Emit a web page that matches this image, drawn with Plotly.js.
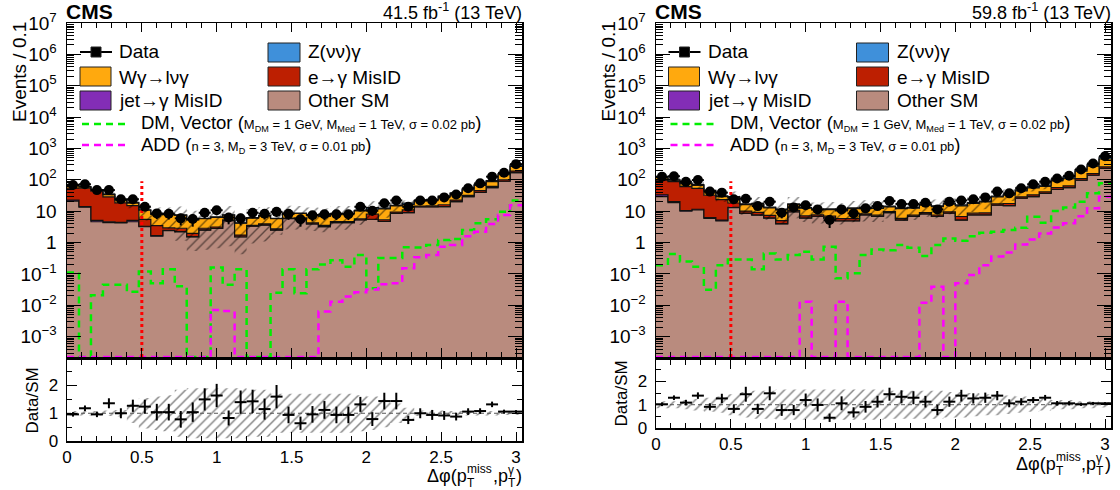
<!DOCTYPE html>
<html>
<head>
<meta charset="utf-8">
<script src="https://cdn.plot.ly/plotly-3.0.1.min.js"></script>
<style>html,body{margin:0;padding:0;background:#fff}#chart{width:1120px;height:490px}</style>
</head>
<body>
<div id="chart"></div>
<script>
// ---------------- binning ----------------
const binWidth = 0.08;
const nBins = 38;
const xMax = 3.04;
const cutX = 0.5;
const cutTop = 90;

// ---------------- left panel: 41.5 fb-1 ----------------
const dataL    = [68,72,47,47,24,24, 13.8,8.5,8.3,5.9,5.6,8.9, 10.7,6.3,5.9,8.9,8.3,9.5, 8.2,5.5,7.4,8.0,8.0,8.0, 13.8,10.3,17.8,22,13.8,22, 22,27.5,34,54,77,126, 167,316];
const dataErrL = [8,8.5,7,7,5,5, 3.7,2.9,2.9,2.4,2.4,3, 3.3,2.5,2.4,3,2.9,3.1, 2.9,2.3,2.7,2.8,2.8,2.8, 3.7,3.2,4.2,4.7,3.7,4.7, 4.7,5.2,5.8,7.3,8.8,11, 13,18];
const otherL   = [21,13.5,4.6,4.3,4.2,4.6, 3.2,1.6,2.4,2.2,1.5,2.5, 2.8,5.0,1.5,3.3,3.6,2.5, 5.8,5.8,3.9,3.2,4.3,4.3, 5.3,5.5,4.7,8.5,9,13.8, 13.8,14,20,29,40,56, 90,170];
const jetL     = [1.5,0.5,0.5,0.3,0.2,0.5, 0.1,0.05,0.05,0.05,0.05,0.05, 0.03,0.03,0.03,0.03,0.03,0.03, 0.03,0.03,0.03,0.03,0.03,0.03, 0.03,0.03,0.03,0.03,0.03,0.03, 0.03,0.03,0.03,0.03,0.03,0.03, 0.03,0.03];
const eleL     = [32,40,38,24,14,10, 2.2,1.8,0.5,0.6,0.4,0.3, 0.3,0.3,0.2,0.2,0.3,0.2, 0.2,0.3,0.3,0.3,0.3,0.3, 0.4,2.5,0.6,0.8,2,0.8, 1,2,2.6,3,5,6, 10,20];
const wgL      = [12,5,4,5,4,3, 5.2,4.5,4.8,4.5,3.3,2.9, 3.2,2.1,2.4,2.5,3.1,3.0, 2.5,2.3,3.3,3.4,3.7,3.7, 4.5,3.5,6.5,5.5,5.5,6.7, 7.8,12.5,14,16,21,26, 45,78];
const zvvL     = [4.5,2,2,1.4,1.6,0.9, 0.4,0.25,0.25,0.25,0.15,0.15, 0.2,0.2,0.1,0.2,0.2,0.2, 0.2,0.2,0.2,0.2,0.2,0.2, 0.3,1.5,0.6,0.5,1.7,0.7, 0.8,1.5,2,3,5,7, 13,30];
const systL    = [0.08,0.08,0.08,0.1,0.12,0.35, 0.55,0.6,0.65,0.85,0.9,0.9, 0.9,0.9,0.9,0.85,0.85,0.7, 0.7,0.7,0.7,0.7,0.7,0.7, 0.65,0.6,0.5,0.35,0.2,0.1, 0.1,0.1,0.08,0.08,0.08,0.08, 0.06,0.06];
const ratioL   = [0.96,1.18,0.96,1.36,1.0,1.27, 1.24,1.04,1.04,0.78,1.04,1.5, 1.64,0.83,1.4,1.43,1.15,1.6, 0.94,0.64,0.96,1.12,0.94,0.94, 1.32,0.79,1.44,1.44,0.76,1.0, 0.94,0.92,0.88,1.06,1.08,1.32, 1.06,1.06];
const ratioErrL= [0.08,0.1,0.1,0.18,0.18,0.22, 0.25,0.3,0.3,0.3,0.35,0.4, 0.42,0.27,0.42,0.42,0.38,0.42, 0.3,0.24,0.3,0.32,0.3,0.3, 0.27,0.25,0.3,0.3,0.15,0.18, 0.18,0.16,0.14,0.12,0.1,0.1, 0.07,0.05];
const dmL      = [0.11,0,0.021,0.045,0.045,0.027, 0.12,0.05,0.14,0.04,0,0, 0.16,0.045,0.14,0,0,0.025, 0.14,0.024,0.14,0.2,0.27,0.17, 0.4,0.035,0.32,0.32,0.71,0.7, 0.83,1.2,1.3,2.5,4.1,5.5, 9.5,22];
const addL     = [0,0,0,0,0,0, 0,0,0,0,0,0, 0.007,0.0065,0,0,0,0, 0,0,0,0.0063,0.013,0.019, 0.026,0.032,0.047,0.05,0.15,0.34, 0.4,0.74,0.83,1.6,2.2,3.9, 7.6,15.5];

// ---------------- right panel: 59.8 fb-1 ----------------
const dataR    = [126,130,87,98,42,39, 24,25,14.5,20,8.9,13.2, 15.5,11.4,5.2,11.4,8.5,12.3, 14.5,21,17,17,18.6,11.4, 20,22,24,27.5,42,37, 54,72,87,110,134,214, 331,566];
const dataErrR = [11,11.4,9.3,9.9,6.5,6.2, 4.9,5,3.8,4.5,3,3.6, 3.9,3.4,2.3,3.4,2.9,3.5, 3.8,4.6,4.1,4.1,4.3,3.4, 4.5,4.7,4.9,5.2,6.5,6.1, 7.3,8.5,9.3,10.5,11.6,14.6, 18.2,23.8];
const otherR   = [29,18.6,10,11,5.9,4.9, 13,8.5,7.5,6,3.9,9.5, 6,6.8,6,4.9,4.9,7.6, 6.8,9,5.2,6.8,8.2,6.8, 8.6,5.2,7.6,7.6,15.5,15, 26,29,37,49,56,98, 141,230];
const jetR     = [4,1.5,0.5,0.5,0.3,0.3, 0.2,0.1,0.1,0.1,0.1,0.1, 0.1,0.1,0.1,0.05,0.05,0.05, 0.05,0.05,0.05,0.05,0.05,0.05, 0.05,0.05,0.05,0.05,0.05,0.05, 0.05,0.05,0.05,0.05,0.05,0.05, 0.05,0.05];
const eleR     = [65,67,50,42,26,18, 5,1.5,1.5,1.2,1.0,1.0, 1.0,0.8,0.8,0.8,0.8,0.6, 0.6,0.6,0.6,0.6,0.7,0.7, 0.8,1.5,1.0,1.2,1.5,2.5, 2.5,4,4,7,8,12, 18,30];
const wgR      = [20,10,15,13,11,6, 9,6,7.5,5.5,6,5.6, 5.3,3.3,4.3,4.5,6.3,4.6, 4.7,4.1,6.2,5,6.7,6.5, 7.3,8.0,9.2,11,11.5,15, 16,22,21,38,48,78, 115,200];
const zvvR     = [6,3,4.5,3.5,2.8,1.8, 1.8,0.9,1.1,0.6,0.6,0.8, 0.6,0.5,0.6,0.55,0.65,0.65, 0.65,0.75,0.65,0.65,0.85,0.75, 0.95,1.05,1.05,1.15,1.45,2.45, 3.45,5,5,10,14,22, 38,74];
const systR    = [0.15,0.15,0.2,0.25,0.3,0.35, 0.45,0.55,0.6,0.6,0.65,0.65, 0.65,0.65,0.65,0.65,0.65,0.65, 0.65,0.6,0.6,0.6,0.6,0.6, 0.55,0.55,0.5,0.45,0.45,0.4, 0.35,0.3,0.25,0.2,0.2,0.15, 0.15,0.12];
const ratioR   = [1.02,1.30,1.09,1.39,0.91,1.27, 0.82,1.45,0.82,1.49,0.77,0.77, 1.2,0.99,0.44,1.06,0.67,0.91, 1.13,1.45,1.34,1.3,1.13,0.77, 1.13,1.39,1.27,1.3,1.39,1.06, 1.13,1.2,1.3,1.06,1.06,1.02, 1.06,1.06];
const ratioErrR= [0.08,0.1,0.12,0.14,0.15,0.2, 0.18,0.32,0.22,0.3,0.25,0.22, 0.28,0.28,0.18,0.3,0.22,0.25, 0.25,0.28,0.28,0.28,0.25,0.22, 0.22,0.25,0.22,0.22,0.2,0.17, 0.15,0.13,0.12,0.1,0.09,0.07, 0.06,0.04];
const dmR      = [0.19,0.43,0.25,0.17,0.031,0.19, 0.29,0.29,0.14,0.45,0.29,0.4, 0.51,0.29,0.74,0.072,0.105,0.40, 0.60,0.57,0.83,0.68,0.37,0.83, 1.35,1.14,1.6,2.05,2.2,2.5, 2.96,6.6,4.3,10.2,13,20, 37,78];
const addR     = [0,0,0,0,0,0, 0,0,0,0,0,0, 0.013,0,0,0.013,0,0, 0,0,0,0,0.012,0.039, 0,0.05,0.093,0.19,0.36,0.48, 0.87,1.25,1.95,3.0,4.1,6.9, 12.3,29];

// ---------------- labels ----------------
const yTickVals = [1e-3,1e-2,1e-1,1,10,1e2,1e3,1e4,1e5,1e6,1e7];
const yTickText = ['10<sup>\u22123</sup>','10<sup>\u22122</sup>','10<sup>\u22121</sup>','1','10','10<sup>2</sup>','10<sup>3</sup>','10<sup>4</sup>','10<sup>5</sup>','10<sup>6</sup>','10<sup>7</sup>'];
const ratioTickVals = [0,1,2];
const ratioTickText = ['0','1','2'];
const lumiL = '41.5 fb<sup>-1</sup> (13 TeV)';
const lumiR = '59.8 fb<sup>-1</sup> (13 TeV)';
const legendNames = {
  data:'Data', zvv:'Z(\u03bd\u03bd)\u03b3', wg:'W\u03b3\u2192l\u03bd\u03b3', ele:'e\u2192\u03b3 MisID',
  jet:'jet\u2192\u03b3 MisID', other:'Other SM'
};

// ---------------- styles ----------------
const FONT = 'Liberation Sans, Arial, Helvetica, sans-serif';
const colOther = '#b98b7e', colJet = '#832db6', colEle = '#bd1f01', colWg = '#ffa90e', colZvv = '#3f90da';
const colDM = '#00ee00', colADD = '#ff00ff';
const yMinLog = -3.65;
const yFloor = Math.pow(10, yMinLog);

const W = 1120, H = 490, ML = 67, MR = 9, MT = 23, MB = 49;
const PW = W - ML - MR, PH = H - MT - MB;
const px = x => (x - ML) / PW;
const py = y => (MT + PH - y) / PH;

const edges = Array.from({length: nBins + 1}, (_, i) => +(i * binWidth).toFixed(4));
const centers = edges.slice(0, -1).map(e => +(e + binWidth / 2).toFixed(4));
const st = v => v.concat([v[v.length - 1]]);

function panelTraces(p, xa, ya, xr, yr) {
  const tr = [];
  const base = {mode: 'lines', hoverinfo: 'skip', showlegend: false};
  tr.push(Object.assign({}, base, {x: edges, y: st(Array(nBins).fill(1e-6)), line: {width: 0, shape: 'hv'}, xaxis: xa, yaxis: ya}));
  let cum = Array(nBins).fill(0);
  [[p.other, colOther], [p.jet, colJet], [p.ele, colEle], [p.wg, colWg], [p.zvv, colZvv]].forEach(([arr, col]) => {
    cum = cum.map((c, i) => c + arr[i]);
    tr.push(Object.assign({}, base, {x: edges, y: st(cum), line: {color: '#111', width: 1.2, shape: 'hv'},
      fill: 'tonexty', fillcolor: col, xaxis: xa, yaxis: ya}));
  });
  const total = cum;
  const pat = {shape: '/', fgcolor: '#000', bgcolor: 'rgba(0,0,0,0)', size: 7, solidity: 0.2, fillmode: 'overlay'};
  tr.push(Object.assign({}, base, {x: edges, y: st(total.map((t, i) => t * (1 - p.syst[i]))), line: {width: 0, shape: 'hv'}, xaxis: xa, yaxis: ya}));
  tr.push(Object.assign({}, base, {x: edges, y: st(total.map((t, i) => t * (1 + p.syst[i]))), line: {width: 0, shape: 'hv'},
    fill: 'tonexty', fillcolor: 'rgba(0,0,0,0)', fillpattern: pat, xaxis: xa, yaxis: ya}));
  // signals
  tr.push(Object.assign({}, base, {x: edges, y: st(p.dm.map(v => v > 0 ? v : yFloor)), line: {color: colDM, width: 2.5, dash: '7px,5px', shape: 'hv'}, xaxis: xa, yaxis: ya}));
  tr.push(Object.assign({}, base, {x: edges, y: st(p.add.map(v => v > 0 ? v : yFloor)), line: {color: colADD, width: 2.5, dash: '7px,5px', shape: 'hv'}, xaxis: xa, yaxis: ya}));
  // cut line
  tr.push(Object.assign({}, base, {x: [cutX, cutX], y: [yFloor, cutTop], line: {color: '#ff0000', width: 3, dash: '3px,3px'}, xaxis: xa, yaxis: ya}));
  // data
  tr.push({x: centers, y: p.data, mode: 'markers', type: 'scatter', name: 'Data', showlegend: false,
    marker: {symbol: 'circle', size: 10, color: 'black'},
    error_x: {type: 'constant', value: binWidth / 2, thickness: 2, width: 0, color: 'black'},
    error_y: {type: 'data', array: p.dataErr, thickness: 2, width: 0, color: 'black'},
    xaxis: xa, yaxis: ya});
  // ratio band
  tr.push(Object.assign({}, base, {x: edges, y: st(p.syst.map(u => 1 - u)), line: {width: 0, shape: 'hv'}, xaxis: xr, yaxis: yr}));
  tr.push(Object.assign({}, base, {x: edges, y: st(p.syst.map(u => 1 + u)), line: {width: 0, shape: 'hv'},
    fill: 'tonexty', fillcolor: 'rgba(0,0,0,0)', fillpattern: pat, xaxis: xr, yaxis: yr}));
  tr.push(Object.assign({}, base, {x: [0, xMax], y: [1, 1], line: {color: '#555', width: 1, dash: '4px,3px'}, xaxis: xr, yaxis: yr}));
  tr.push({x: centers, y: p.ratio, mode: 'markers', type: 'scatter', showlegend: false,
    marker: {size: 2, color: 'black'},
    error_x: {type: 'constant', value: binWidth / 2, thickness: 2, width: 0, color: 'black'},
    error_y: {type: 'data', array: p.ratioErr, thickness: 2, width: 0, color: 'black'},
    xaxis: xr, yaxis: yr});
  return tr;
}

const traces = [].concat(
  panelTraces({data: dataL, dataErr: dataErrL, other: otherL, jet: jetL, ele: eleL, wg: wgL, zvv: zvvL, syst: systL,
    ratio: ratioL, ratioErr: ratioErrL, dm: dmL, add: addL}, 'x', 'y', 'x3', 'y3'),
  panelTraces({data: dataR, dataErr: dataErrR, other: otherR, jet: jetR, ele: eleR, wg: wgR, zvv: zvvR, syst: systR,
    ratio: ratioR, ratioErr: ratioErrR, dm: dmR, add: addR}, 'x2', 'y2', 'x4', 'y4')
);

// ---------------- axes ----------------
const minorLog = [];
for (let k = -4; k <= 6; k++) for (let m = 2; m <= 9; m++) { const v = m * Math.pow(10, k); if (v >= yFloor && v <= 1e7) minorLog.push(v); }

const common = {showline: true, linecolor: 'black', linewidth: 1.5, mirror: 'allticks', ticks: 'inside', tickcolor: 'black',
  tickwidth: 1, showgrid: false, zeroline: false, fixedrange: true};
function xMain(dom, anchor) {
  return Object.assign({}, common, {domain: dom, anchor: anchor, range: [0, xMax], tickmode: 'linear', tick0: 0, dtick: 0.5,
    ticklen: 9, showticklabels: false, minor: {ticks: 'inside', tickmode: 'linear', tick0: 0, dtick: 0.1, ticklen: 5, tickcolor: 'black', showgrid: false}});
}
function xRatio(dom, anchor) {
  return Object.assign({}, common, {domain: dom, anchor: anchor, range: [0, xMax], tickmode: 'linear', tick0: 0, dtick: 0.5,
    ticklen: 9, showticklabels: true, tickfont: {size: 17, color: 'black', family: FONT}, ticklabelstandoff: 0,
    minor: {ticks: 'inside', tickmode: 'linear', tick0: 0, dtick: 0.1, ticklen: 5, tickcolor: 'black', showgrid: false}});
}
function yMain(dom, anchor) {
  return Object.assign({}, common, {domain: dom, anchor: anchor, type: 'log', range: [yMinLog, 7], tickmode: 'array',
    tickvals: yTickVals, ticktext: yTickText, ticklen: 14, tickfont: {size: 19, color: 'black', family: FONT}, ticklabelstandoff: 5,
    minor: {ticks: 'inside', tickmode: 'array', tickvals: minorLog, ticklen: 7, tickcolor: 'black', showgrid: false}});
}
function yRatio(dom, anchor) {
  return Object.assign({}, common, {domain: dom, anchor: anchor, range: [0, 2.92], tickmode: 'array', tickvals: ratioTickVals,
    ticktext: ratioTickText, ticklen: 10, tickfont: {size: 17, color: 'black', family: FONT}, ticklabelstandoff: 4,
    minor: {ticks: 'inside', tickmode: 'linear', tick0: 0, dtick: 0.5, ticklen: 5, tickcolor: 'black', showgrid: false}});
}

const xDomL = [0, px(522)], xDomR = [px(656), 1];
const yDomMain = [py(357), 1];
const yDomRatL = [0, py(360)], yDomRatR = [py(428), py(360)];

// ---------------- legend / text ----------------
const shapes = [], annotations = [];
const measureCtx = document.createElement('canvas').getContext('2d');
function tw(s, size) { measureCtx.font = size + 'px "Liberation Sans", Arial, sans-serif'; return measureCtx.measureText(s).width; }
function txt(x, y, text, size, opts) {
  annotations.push(Object.assign({x: px(x), y: py(y), xref: 'paper', yref: 'paper', text: text, showarrow: false,
    xanchor: 'left', yanchor: 'middle', borderpad: 0, font: {size: size, color: 'black', family: FONT}}, opts || {}));
}
function box(x0, y0, x1, y1, col) {
  shapes.push({type: 'rect', xref: 'paper', yref: 'paper', x0: px(x0), x1: px(x1), y0: py(y1), y1: py(y0),
    fillcolor: col, line: {color: '#222', width: 1}});
}
function hline(x0, x1, y, col, w, dash) {
  shapes.push({type: 'line', xref: 'paper', yref: 'paper', x0: px(x0), x1: px(x1), y0: py(y), y1: py(y), line: {color: col, width: w, dash: dash || 'solid'}});
}
function axisTitle(xRight, yc) {
  const big = 18, small = 12;
  const a = '\u0394\u03c6(p', b = ',p', c = ')';
  const wa = tw(a, big), wb = tw(b, big), wc = tw(c, big);
  const w1 = Math.max(tw('miss', small), tw('T', small)) + 1;
  const w2 = Math.max(tw('\u03b3', small), tw('T', small)) + 1;
  let x = xRight - (wa + w1 + wb + w2 + wc);
  txt(x, yc, a, big); x += wa;
  txt(x, yc - 7, 'miss', small); txt(x, yc + 7, 'T', small); x += w1;
  txt(x, yc, b, big); x += wb;
  txt(x, yc - 6, '\u03b3', small); txt(x, yc + 7, 'T', small); x += w2;
  txt(x, yc, c, big);
}
function panelText(dx, lumi, ratioBottom, titleY) {
  txt(65 + dx, 12, '<b>CMS</b>', 21);
  txt(523 + dx, 11.5, lumi, 18, {xanchor: 'right'});
  // legend column 1
  hline(80 + dx, 112 + dx, 52, 'black', 2);
  box(91 + dx, 47, 101 + dx, 57, 'black');
  txt(118 + dx, 52, legendNames.data, 19);
  box(80 + dx, 67, 111 + dx, 86, colWg);
  txt(118 + dx, 77, legendNames.wg, 19);
  box(80 + dx, 91, 111 + dx, 110, colJet);
  txt(118 + dx, 101, legendNames.jet, 19);
  // column 2
  box(268 + dx, 43, 300 + dx, 62, colZvv);
  txt(307 + dx, 52, legendNames.zvv, 19);
  box(268 + dx, 67, 300 + dx, 86, colEle);
  txt(307 + dx, 77, legendNames.ele, 19);
  box(268 + dx, 91, 300 + dx, 110, colOther);
  txt(307 + dx, 101, legendNames.other, 19);
  // signals
  hline(82 + dx, 128 + dx, 124, colDM, 2.5, '7px,5px');
  txt(140 + dx, 123, 'DM, Vector (<span style="font-size:13px">M<sub>DM</sub> = 1 GeV, M<sub>Med</sub> = 1 TeV, \u03c3 = 0.02 pb</span>)', 18.5);
  hline(82 + dx, 128 + dx, 145, colADD, 2.5, '7px,5px');
  txt(140 + dx, 145, 'ADD (<span style="font-size:13px">n = 3, M<sub>D</sub> = 3 TeV, \u03c3 = 0.01 pb</span>)', 18.5);
  // axis titles
  txt(19 + dx, 72, 'Events / 0.1', 19, {xanchor: 'center', textangle: -90});
  txt(32 + dx, (360 + ratioBottom) / 2, 'Data/SM', 17, {xanchor: 'center', textangle: -90});
  axisTitle(521 + dx, titleY);
}
panelText(0, lumiL, 441, 476);
panelText(588.5, lumiR, 428, 464);

const layout = {
  width: W, height: H, margin: {l: ML, r: MR, t: MT, b: MB, pad: 0},
  paper_bgcolor: 'white', plot_bgcolor: 'white', showlegend: false,
  font: {family: FONT, color: 'black'},
  xaxis: xMain(xDomL, 'y'), yaxis: yMain(yDomMain, 'x'),
  xaxis2: xMain(xDomR, 'y2'), yaxis2: yMain(yDomMain, 'x2'),
  xaxis3: xRatio(xDomL, 'y3'), yaxis3: yRatio(yDomRatL, 'x3'),
  xaxis4: xRatio(xDomR, 'y4'), yaxis4: yRatio(yDomRatR, 'x4'),
  shapes: shapes, annotations: annotations
};

Plotly.newPlot('chart', traces, layout, {displayModeBar: false, staticPlot: true});
</script>
</body>
</html>
